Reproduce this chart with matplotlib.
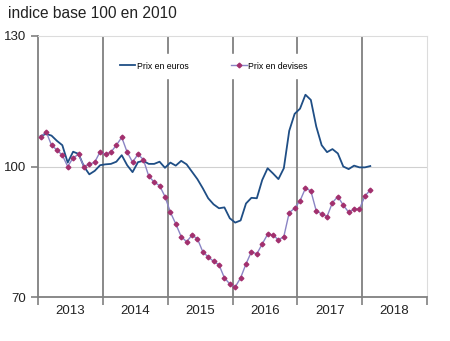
import numpy as np
import matplotlib
matplotlib.use("Agg")
import matplotlib.pyplot as plt
from matplotlib.ticker import FixedLocator, NullFormatter, FixedFormatter

plt.rcParams['font.family'] = ['Liberation Sans', 'DejaVu Sans']

# monthly values, Jan 2013 -> Feb 2018
years = ['2013', '2014', '2015', '2016', '2017', '2018']
euros = [107.0, 107.5, 107.1, 105.9, 104.9, 100.9, 103.4, 102.9, 100.0, 98.2,
         99.0, 100.3, 100.5, 100.6, 101.1, 102.6, 100.3, 98.7, 101.0, 101.3,
         100.6, 100.6, 101.1, 99.7, 100.9, 100.2, 101.3, 100.5, 98.8, 97.1,
         95.0, 92.7, 91.3, 90.4, 90.6, 88.1, 87.1, 87.6, 91.5, 92.8,
         92.7, 96.9, 99.6, 98.4, 97.1, 99.6, 108.2, 112.1, 113.3, 116.5,
         115.3, 109.2, 104.9, 103.3, 104.0, 103.0, 100.0, 99.4, 100.2, 99.8,
         99.8, 100.1]
devises = [106.8, 108.0, 104.9, 103.8, 102.6, 100.0, 102.0, 102.8, 100.0, 100.5,
           101.0, 103.4, 102.8, 103.3, 104.9, 106.7, 103.3, 101.0, 102.8, 101.6,
           97.8, 96.4, 95.6, 93.1, 89.5, 86.8, 83.9, 82.7, 84.2, 83.4,
           80.4, 79.2, 78.2, 77.4, 74.4, 73.0, 72.3, 74.4, 77.6, 80.4,
           79.9, 82.2, 84.4, 84.3, 83.1, 83.9, 89.4, 90.4, 92.1, 95.0,
           94.4, 89.8, 89.1, 88.5, 91.7, 93.1, 91.1, 89.5, 90.2, 90.2,
           93.2, 94.6]

x = np.arange(len(euros)) + 0.5
nmonths = 12 * len(years)

fig = plt.figure(figsize=(4.5, 3.41), dpi=100)
ax = fig.add_axes([38/450, 1-297/341, (427-38)/450, (297-36)/341])

ax.axhline(100, color='#d0d0d0', lw=0.8, zorder=1)
for k in range(12, nmonths, 12):
    ax.axvline(k, color='#808080', lw=1.3, zorder=1)

ax.plot(x, euros, color='#1f4e85', lw=1.3, zorder=3, label='Prix en euros')
ax.plot(x, devises, color='#8a84c4', lw=1.0, marker='D', ms=2.4,
        mfc='#a2306e', mec='#a2306e', zorder=3, label='Prix en devises')

ax.set_xlim(0, nmonths)
ax.set_ylim(70, 130)
ax.set_yticks([70, 100, 130])
ax.xaxis.set_major_locator(FixedLocator(range(0, nmonths + 1, 12)))
ax.xaxis.set_major_formatter(NullFormatter())
ax.xaxis.set_minor_locator(FixedLocator(range(6, nmonths, 12)))
ax.xaxis.set_minor_formatter(FixedFormatter(years))
ax.tick_params(axis='x', which='major', length=6, color='#808080', width=1.2)
ax.tick_params(axis='x', which='minor', length=0, pad=6, labelsize=9.5, labelcolor='#222222')
ax.tick_params(axis='y', length=5, color='#808080', width=1.2, labelsize=9.5, labelcolor='#222222')

for s in ['left', 'bottom']:
    ax.spines[s].set_color('#808080')
    ax.spines[s].set_linewidth(1.3)
for s in ['top', 'right']:
    ax.spines[s].set_color('#dcdcdc')
    ax.spines[s].set_linewidth(0.8)

leg = ax.legend(loc='center', bbox_to_anchor=(0.452, 0.885), ncol=2, fontsize=6.3,
                frameon=True, fancybox=False, edgecolor='white', framealpha=1,
                handlelength=1.8, columnspacing=4.8, handletextpad=0.2,
                borderpad=0.9, borderaxespad=0)
leg.set_zorder(5)

fig.text(8/450, 1-14/341, 'indice base 100 en 2010', fontsize=11.2, va='center', ha='left',
         color='#222222')

fig.savefig('out.png', dpi=100)
